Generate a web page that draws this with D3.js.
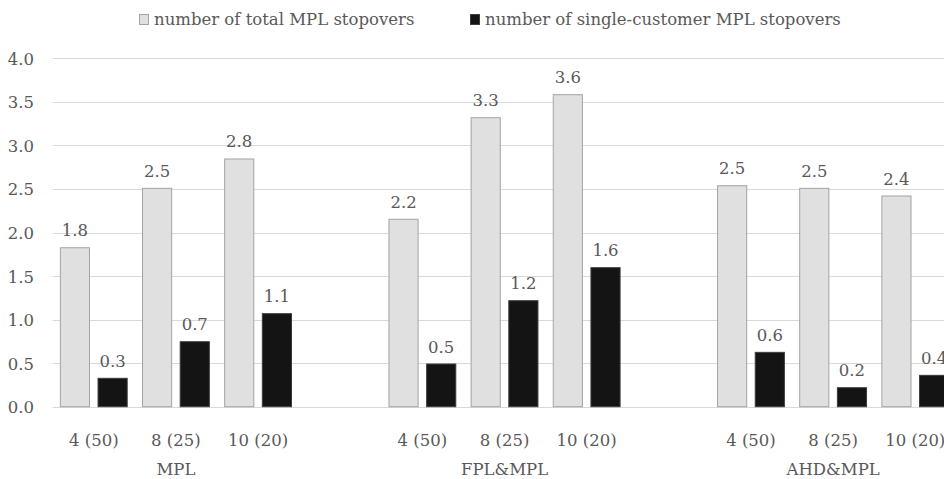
<!DOCTYPE html>
<html>
<head>
<meta charset="utf-8">
<script src="https://cdn.jsdelivr.net/npm/d3@7"></script>
<style>
  html, body { margin: 0; padding: 0; background: #ffffff; }
  svg { display: block; overflow: hidden; }
</style>
</head>
<body>
<svg id="chart" width="944" height="479"></svg>
<script>
// Scenario groups and the fleet configurations inside each group
const groups = ["MPL", "FPL&MPL", "AHD&MPL"];
const configurations = ["4 (50)", "8 (25)", "10 (20)"];
const seriesNames = ["number of total MPL stopovers", "number of single-customer MPL stopovers"];

// Values per group, in configuration order
const totalStopovers = [1.825, 2.507, 2.844, 2.152, 3.318, 3.582, 2.537, 2.507, 2.419];
const singleCustomerStopovers = [0.326, 0.746, 1.068, 0.490, 1.217, 1.596, 0.624, 0.218, 0.360];

const yTicks = [0, 0.5, 1.0, 1.5, 2.0, 2.5, 3.0, 3.5, 4.0];

const seriesFill = ["#e0e0e0", "#141414"];
const seriesStroke = ["#a3a3a3", "#3c3c3c"];

const FONT = "'DejaVu Serif', serif";
const fontSize = 16.5;

const svg = d3.select("#chart");

function styleText(sel) {
  return sel.style("font-family", FONT).style("font-size", fontSize + "px").style("fill", "#595959");
}

// Category slots: three configurations per group, an empty slot between groups
const slots = [];
const rows = [];
groups.forEach((g, gi) => {
  configurations.forEach((c, ci) => {
    const key = gi + "-" + ci;
    slots.push(key);
    const i = gi * configurations.length + ci;
    rows.push({ key, group: g, config: c, values: [totalStopovers[i], singleCustomerStopovers[i]] });
  });
  if (gi < groups.length - 1) slots.push("gap-" + gi);
});

const plotLeft = 52.7, step = 82.15;
const x = d3.scaleBand().domain(slots).range([plotLeft, plotLeft + step * slots.length]).padding(0);
const xInner = d3.scaleBand().domain([0, 1]).range([0, x.bandwidth()]).paddingInner(0.2).paddingOuter(0.19);
const y = d3.scaleLinear().domain([0, 4]).range([406.7, 58.3]);

// Horizontal gridlines
svg.append("g")
  .selectAll("line")
  .data(yTicks)
  .join("line")
  .attr("x1", plotLeft)
  .attr("x2", 960)
  .attr("y1", d => Math.round(y(d)) + 0.5)
  .attr("y2", d => Math.round(y(d)) + 0.5)
  .attr("stroke", "#d9d9d9")
  .attr("stroke-width", 1);

// Y axis labels
const yAxis = d3.axisLeft(y).tickValues(yTicks).tickFormat(d3.format(".1f")).tickSize(0).tickPadding(0);
svg.append("g")
  .attr("transform", "translate(34,0)")
  .call(yAxis)
  .call(g => g.attr("font-family", null).attr("font-size", null))
  .call(g => g.select(".domain").remove())
  .call(g => styleText(g.selectAll("text")).attr("dy", "0.36em"));

// Bars
const cat = svg.append("g")
  .selectAll("g")
  .data(rows)
  .join("g")
  .attr("transform", d => `translate(${x(d.key)},0)`);

cat.selectAll("rect")
  .data(d => d.values.map((v, s) => ({ v, s })))
  .join("rect")
  .attr("x", d => xInner(d.s) + 0.5)
  .attr("y", d => y(d.v))
  .attr("width", xInner.bandwidth() - 1)
  .attr("height", d => y(0) - y(d.v))
  .attr("fill", d => seriesFill[d.s])
  .attr("stroke", d => seriesStroke[d.s])
  .attr("stroke-width", 1);

// Value labels above bars
styleText(cat.selectAll("text.value")
  .data(d => d.values.map((v, s) => ({ v, s })))
  .join("text")
  .attr("class", "value")
  .attr("x", d => xInner(d.s) + xInner.bandwidth() / 2)
  .attr("y", d => y(d.v) - 11.5)
  .attr("text-anchor", "middle")
  .text(d => d3.format(".1f")(d.v)));

// Configuration labels
styleText(cat.append("text")
  .attr("x", x.bandwidth() / 2)
  .attr("y", 446)
  .attr("text-anchor", "middle")
  .text(d => d.config));

// Group labels, centred under each group's middle configuration
styleText(svg.append("g")
  .selectAll("text")
  .data(groups)
  .join("text")
  .attr("x", (g, gi) => x(gi + "-1") + x.bandwidth() / 2)
  .attr("y", 475)
  .attr("text-anchor", "middle")
  .text(g => g));

// Legend
const legendX = [139.5, 470.5];
const legend = svg.append("g")
  .selectAll("g")
  .data(seriesNames)
  .join("g")
  .attr("transform", (d, i) => `translate(${legendX[i]},0)`);

legend.append("rect")
  .attr("x", 0)
  .attr("y", 14.5)
  .attr("width", 9)
  .attr("height", 10)
  .attr("fill", (d, i) => seriesFill[i])
  .attr("stroke", (d, i) => seriesStroke[i])
  .attr("stroke-width", 1);

styleText(legend.append("text")
  .attr("x", 14.5)
  .attr("y", 25)
  .text(d => d));
</script>
</body>
</html>
